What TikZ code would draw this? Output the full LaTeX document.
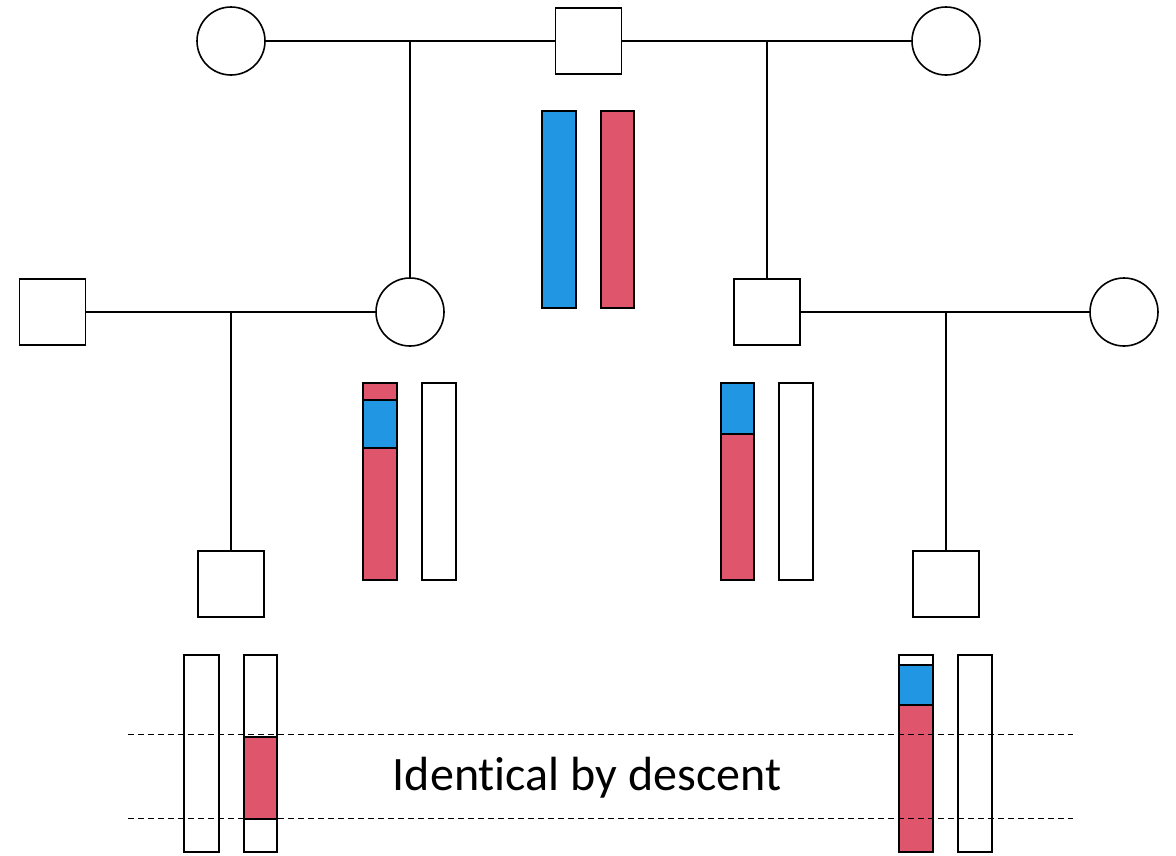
\documentclass[tikz,border=0pt]{standalone}
\usepackage{fontspec}
\setmainfont{Carlito}[Ligatures=NoCommon]
\definecolor{cblue}{RGB}{33,150,226}
\definecolor{cred}{RGB}{223,86,108}
\begin{document}
\begin{tikzpicture}[x=1pt,y=-1pt,
  line width=1.6pt,
  fem/.style={draw,circle,minimum size=68pt,inner sep=0pt,fill=white},
  mal/.style={draw,rectangle,minimum size=66pt,inner sep=0pt,fill=white},
  link/.style={draw,line width=1.6pt},
  chr/.style={draw,line width=1.6pt},
  guide/.style={draw,line width=1pt,dash pattern=on 6pt off 4pt}]
\useasboundingbox (0,0) rectangle (1176,855);
% pedigree nodes
\node[fem] (gm1) at (231,41) {};
\node[mal] (gf) at (588.5,41) {};
\node[fem] (gm2) at (946,41) {};
\node[mal] (f1) at (52.5,312) {};
\node[fem] (m1) at (410,312) {};
\node[mal] (f2) at (767,312) {};
\node[fem] (m2) at (1124,312) {};
\node[mal] (c1) at (231,584) {};
\node[mal] (c2) at (946,584) {};
% junctions
\coordinate (j1) at (410,41);
\coordinate (j2) at (767,41);
\coordinate (j3) at (231,312);
\coordinate (j4) at (946,312);
% connectors
\draw[link] (gm1.east) -- (gf.west);
\draw[link] (gf.east) -- (gm2.west);
\draw[link] (j1) -- (m1.north);
\draw[link] (j2) -- (f2.north);
\draw[link] (f1.east) -- (m1.west);
\draw[link] (f2.east) -- (m2.west);
\draw[link] (j3) -- (c1.north);
\draw[link] (j4) -- (c2.north);
% chromosomes: grandfather
\filldraw[chr,fill=cblue] (542,111) rectangle (576,308);
\filldraw[chr,fill=cred] (601,111) rectangle (634,308);
% mother 1
\filldraw[chr,fill=cred] (363,383) rectangle (397,400);
\filldraw[chr,fill=cblue] (363,400) rectangle (397,448);
\filldraw[chr,fill=cred] (363,448) rectangle (397,580);
\draw[chr] (422,383) rectangle (456,580);
% father 2
\filldraw[chr,fill=cblue] (721,383) rectangle (754,434);
\filldraw[chr,fill=cred] (721,434) rectangle (754,580);
\draw[chr] (779,383) rectangle (813,580);
% child 1
\draw[chr] (184,655) rectangle (219,852);
\draw[chr] (244,655) rectangle (277,852);
\filldraw[chr,fill=cred] (244,737) rectangle (277,819);
% child 2
\draw[chr] (899,655) rectangle (933,665);
\filldraw[chr,fill=cblue] (899,665) rectangle (933,705);
\filldraw[chr,fill=cred] (899,705) rectangle (933,852);
\draw[chr] (958,655) rectangle (992,852);
% dashed guides
\coordinate (g1a) at (128,734);
\coordinate (g1b) at (1073,734);
\coordinate (g2a) at (128,818);
\coordinate (g2b) at (1073,818);
\draw[guide] (g1a) -- (g1b);
\draw[guide] (g2a) -- (g2b);
% label
\node[font=\fontsize{48}{58}\selectfont] (lbl) at (587,778) {Identical by descent};
\end{tikzpicture}
\end{document}
